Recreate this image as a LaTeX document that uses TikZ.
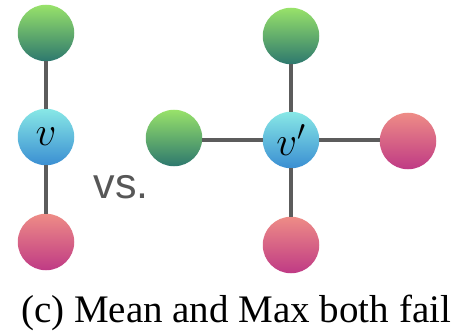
\documentclass[tikz,border=0pt]{standalone}
\usepackage{fix-cm}
\usepackage{fontspec}
\setmainfont{Liberation Serif}
\newfontfamily\labelsans{Liberation Sans}
\definecolor{greenTop}{HTML}{98E26A}
\definecolor{greenBot}{HTML}{2D786E}
\definecolor{pinkTop}{HTML}{EE8C86}
\definecolor{pinkBot}{HTML}{BF3A85}
\definecolor{blueTop}{HTML}{88E8E6}
\definecolor{blueBot}{HTML}{3A8ED2}
\definecolor{edgeGray}{HTML}{5C5C5C}
\definecolor{vsGray}{HTML}{575757}
\begin{document}
\begin{tikzpicture}[x=1pt,y=-1pt,
  vert/.style={circle, minimum size=56.5pt, inner sep=0pt, draw=none},
  greenv/.style={vert, top color=greenTop, bottom color=greenBot},
  pinkv/.style={vert, top color=pinkTop, bottom color=pinkBot},
  bluev/.style={vert, top color=blueTop, bottom color=blueBot},
  vlabel/.style={font=\fontsize{41}{41}\selectfont},
  link/.style={draw=edgeGray, line width=3.2pt}]
\useasboundingbox (0,0) rectangle (470,331);

% left graph: v with two neighbours
\node[greenv] (a1) at (46,33) {};
\node[bluev, vlabel]  (v)  at (46,137) {$v$};
\node[pinkv]  (a2) at (46,242) {};
\draw[link] (a1) -- (v);
\draw[link] (v) -- (a2);

\node[text=vsGray, font=\labelsans\fontsize{43}{43}\selectfont] (vs) at (121,187) {vs.};

% right graph: v' with four neighbours
\node[greenv] (b1) at (291,36) {};
\node[bluev, vlabel]  (w)  at (291,140) {$v'$};
\node[greenv] (b2) at (174,138) {};
\node[pinkv]  (b3) at (408,141) {};
\node[pinkv]  (b4) at (291,245) {};
\draw[link] (b1) -- (w);
\draw[link] (b2.east |- w) -- (w);
\draw[link] (w) -- (b3.west |- w);
\draw[link] (w) -- (b4);

\node[font=\fontsize{39}{39}\selectfont, anchor=base] (cap) at (236,322) {(c) Mean and Max both fail};
\end{tikzpicture}
\end{document}
